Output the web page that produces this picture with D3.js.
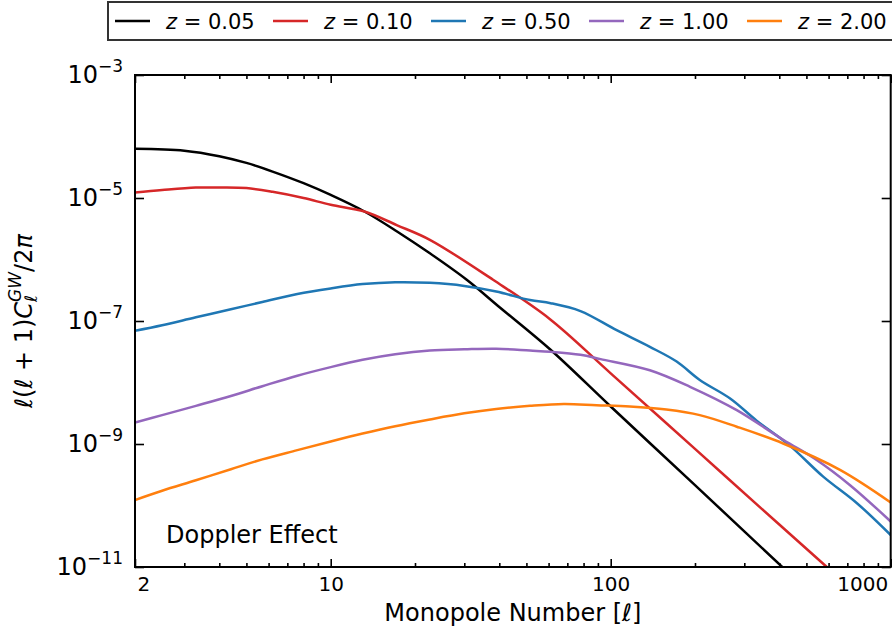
<!DOCTYPE html>
<meta charset="utf-8">
<script src="https://d3js.org/d3.v7.min.js"></script>
<style>
  body { margin: 0; background: #fff; }
  text { font-family: "DejaVu Sans", sans-serif; fill: #000; }
</style>
<body>
<div id="chart"></div>
<script>
// multipole values and spectra
var ellZ005 = [2, 3, 4, 5, 6.2, 8, 10, 13.2, 17.2, 22.6, 30.6, 40.2, 60.7, 100, 200, 300, 408, 500];
var clZ005 = [6.31e-5, 5.89e-5, 4.79e-5, 3.72e-5, 2.69e-5, 1.74e-5, 1.12e-5, 6.03e-6, 2.88e-6, 1.26e-6,
              4.68e-7, 1.66e-7, 3.47e-8, 4.07e-9, 2.14e-10, 3.80e-11, 1.02e-11, 4.27e-12];

var ellZ010 = [2, 2.5, 3.3, 4, 5, 6.2, 8, 10, 13.2, 17.2, 22.6, 38, 60.7, 100, 200, 400, 582, 700];
var clZ010 = [1.23e-5, 1.35e-5, 1.48e-5, 1.48e-5, 1.45e-5, 1.26e-5, 1.00e-5, 7.76e-6, 6.03e-6, 3.63e-6,
              2.09e-6, 4.68e-7, 1.07e-7, 1.41e-8, 8.32e-10, 4.90e-11, 1.07e-11, 5.01e-12];

var ellZ050 = [2, 2.5, 3.3, 4.4, 5.7, 7.6, 10, 13, 17, 22.6, 30, 39, 51.5, 61, 78, 105, 138, 172, 208, 267, 332, 437, 574, 756, 1000];
var clZ050 = [6.92e-8, 8.51e-8, 1.15e-7, 1.55e-7, 2.04e-7, 2.75e-7, 3.39e-7, 3.98e-7, 4.27e-7, 4.17e-7,
              3.72e-7, 3.02e-7, 2.19e-7, 1.95e-7, 1.45e-7, 7.08e-8, 3.80e-8, 2.19e-8, 1.10e-8, 5.50e-9,
              2.40e-9, 9.33e-10, 2.95e-10, 1.10e-10, 3.31e-11];

var ellZ100 = [2, 2.5, 3.3, 4.4, 5.7, 7.6, 10, 13, 17, 22.6, 30, 39, 51.5, 61, 78, 92, 138, 192, 282, 413, 544, 716, 1000];
var clZ100 = [2.24e-9, 2.95e-9, 4.17e-9, 6.03e-9, 8.71e-9, 1.29e-8, 1.78e-8, 2.34e-8, 2.88e-8, 3.31e-8,
              3.47e-8, 3.55e-8, 3.31e-8, 3.16e-8, 2.82e-8, 2.40e-8, 1.58e-8, 8.51e-9, 3.55e-9, 1.17e-9,
              5.50e-10, 2.14e-10, 5.50e-11];

var ellZ200 = [2, 2.5, 3.3, 4.4, 5.7, 7.6, 10, 13, 17, 22.6, 30, 39, 51.5, 68, 89, 117, 158, 208, 282, 413, 659, 1000];
var clZ200 = [1.23e-10, 1.74e-10, 2.57e-10, 3.89e-10, 5.62e-10, 7.94e-10, 1.10e-9, 1.48e-9, 1.95e-9, 2.51e-9,
              3.16e-9, 3.72e-9, 4.17e-9, 4.47e-9, 4.27e-9, 4.07e-9, 3.63e-9, 2.95e-9, 1.91e-9, 1.02e-9,
              3.80e-10, 1.12e-10];

var seriesNames = ["0.05", "0.10", "0.50", "1.00", "2.00"];
var seriesColors = ["#000000", "#d62728", "#1f77b4", "#9467bd", "#ff7f0e"];
var seriesEll = [ellZ005, ellZ010, ellZ050, ellZ100, ellZ200];
var seriesCl = [clZ005, clZ010, clZ050, clZ100, clZ200];

var xMajorTicks = [2, 10, 100, 1000];
var yMajorTicks = [1e-3, 1e-5, 1e-7, 1e-9, 1e-11];
var yTickExp = {"0.001": "3", "0.00001": "5", "1e-7": "7", "1e-9": "9", "1e-11": "11"};

var W = 892, H = 635;
var margin = {top: 75, right: 1.3, bottom: 68, left: 135};
var width = W - margin.left - margin.right,
    height = H - margin.top - margin.bottom;

var svg = d3.select("#chart").append("svg")
    .attr("width", W).attr("height", H);

var g = svg.append("g")
    .attr("transform", "translate(" + margin.left + "," + margin.top + ")");

var x = d3.scaleLog().domain([2, 1000]).range([0, width]);
var y = d3.scaleLog().domain([1e-11, 1e-3]).range([height, 0]);

// minor x ticks
var xMinor = [];
[1, 10, 100].forEach(function(d) {
  for (var k = 2; k <= 9; k++) {
    var v = d * k;
    if (v > 2 && v < 1000 && xMajorTicks.indexOf(v) < 0) xMinor.push(v);
  }
});

g.append("clipPath").attr("id", "plotclip")
  .append("rect").attr("width", width).attr("height", height);

// curves
var line = d3.line()
    .x(function(d) { return x(d[0]); })
    .y(function(d) { return y(d[1]); })
    .curve(d3.curveCatmullRom.alpha(0.5));

seriesNames.forEach(function(name, i) {
  var pts = seriesEll[i].map(function(l, j) { return [l, seriesCl[i][j]]; });
  g.append("path")
    .datum(pts)
    .attr("clip-path", "url(#plotclip)")
    .attr("fill", "none")
    .attr("stroke", seriesColors[i])
    .attr("stroke-width", 2.5)
    .attr("d", line);
});

// axes: ticks point inward on every side
function styleAxis(sel) {
  sel.select(".domain").remove();
  sel.selectAll(".tick line").attr("stroke", "#000").attr("stroke-width", 1.6);
}

g.append("g")
  .attr("transform", "translate(0," + height + ")")
  .call(d3.axisBottom(x).tickValues(xMajorTicks).tickSize(-8).tickPadding(10)
        .tickFormat(function(d) { return String(d); }))
  .call(styleAxis)
  .call(function(a) {
    a.selectAll("text").attr("font-size", 20).attr("font-family", "DejaVu Sans");
    a.selectAll(".tick").filter(function(d) { return d === 2; }).select("text")
      .attr("text-anchor", "start").attr("dx", 2);
    a.selectAll(".tick").filter(function(d) { return d === 1000; }).select("text")
      .attr("text-anchor", "end").attr("dx", -3);
  });

g.append("g")
  .attr("transform", "translate(0," + height + ")")
  .call(d3.axisBottom(x).tickValues(xMinor).tickSize(-4).tickFormat(""))
  .call(styleAxis);

g.append("g")
  .call(d3.axisTop(x).tickValues(xMajorTicks).tickSize(-8).tickFormat(""))
  .call(styleAxis);
g.append("g")
  .call(d3.axisTop(x).tickValues(xMinor).tickSize(-4).tickFormat(""))
  .call(styleAxis);

g.append("g")
  .call(d3.axisLeft(y).tickValues(yMajorTicks).tickSize(-9).tickPadding(12).tickFormat(""))
  .call(styleAxis)
  .call(function(a) {
    a.selectAll(".tick text").each(function(d) {
      var t = d3.select(this).attr("font-size", 24).attr("font-family", "DejaVu Sans");
      t.text(null);
      t.append("tspan").text("10");
      t.append("tspan").attr("font-size", 17).attr("dy", -11).text("\u2212" + yTickExp[String(d)]);
    });
  });

g.append("g")
  .attr("transform", "translate(" + width + ",0)")
  .call(d3.axisRight(y).tickValues(yMajorTicks).tickSize(-9).tickFormat(""))
  .call(styleAxis);

// frame
g.append("rect")
  .attr("width", width).attr("height", height)
  .attr("fill", "none").attr("stroke", "#000").attr("stroke-width", 2);

// axis labels
svg.append("text")
  .attr("x", margin.left + width / 2).attr("y", 621)
  .attr("text-anchor", "middle").attr("font-size", 24)
  .call(function(t) {
    t.append("tspan").text("Monopole Number [");
    t.append("tspan").attr("font-style", "italic").text("\u2113");
    t.append("tspan").text("]");
  });

svg.append("text")
  .attr("transform", "translate(32," + (margin.top + height / 2) + ") rotate(-90)")
  .attr("text-anchor", "middle").attr("font-size", 24)
  .call(function(t) {
    t.append("tspan").attr("font-style", "italic").text("\u2113");
    t.append("tspan").text("(");
    t.append("tspan").attr("font-style", "italic").text("\u2113");
    t.append("tspan").text(" + 1)");
    t.append("tspan").attr("font-style", "italic").text("C");
    t.append("tspan").attr("font-style", "italic").attr("font-size", 17).attr("dy", 5).text("\u2113");
    t.append("tspan").attr("font-style", "italic").attr("font-size", 17).attr("dx", -7).attr("dy", -16).text("GW");
    t.append("tspan").attr("dy", 11).text("/2");
    t.append("tspan").attr("font-style", "italic").text("\u03c0");
  });

// annotation
svg.append("text")
  .attr("x", 166).attr("y", 543)
  .attr("font-size", 24)
  .text("Doppler Effect");

// legend
var legend = svg.append("g");
legend.append("rect")
  .attr("x", 108).attr("y", 2).attr("width", 800).attr("height", 38)
  .attr("fill", "#fff").attr("stroke", "#333").attr("stroke-width", 2);

seriesNames.forEach(function(name, i) {
  var lx = 115 + i * 158;
  legend.append("line")
    .attr("x1", lx).attr("x2", lx + 35).attr("y1", 21).attr("y2", 21)
    .attr("stroke", seriesColors[i]).attr("stroke-width", 2.5);
  var t = legend.append("text")
    .attr("x", lx + 51).attr("y", 29).attr("font-size", 21);
  t.append("tspan").attr("font-style", "italic").text("z");
  t.append("tspan").text(" = " + name);
});
</script>
</body>
